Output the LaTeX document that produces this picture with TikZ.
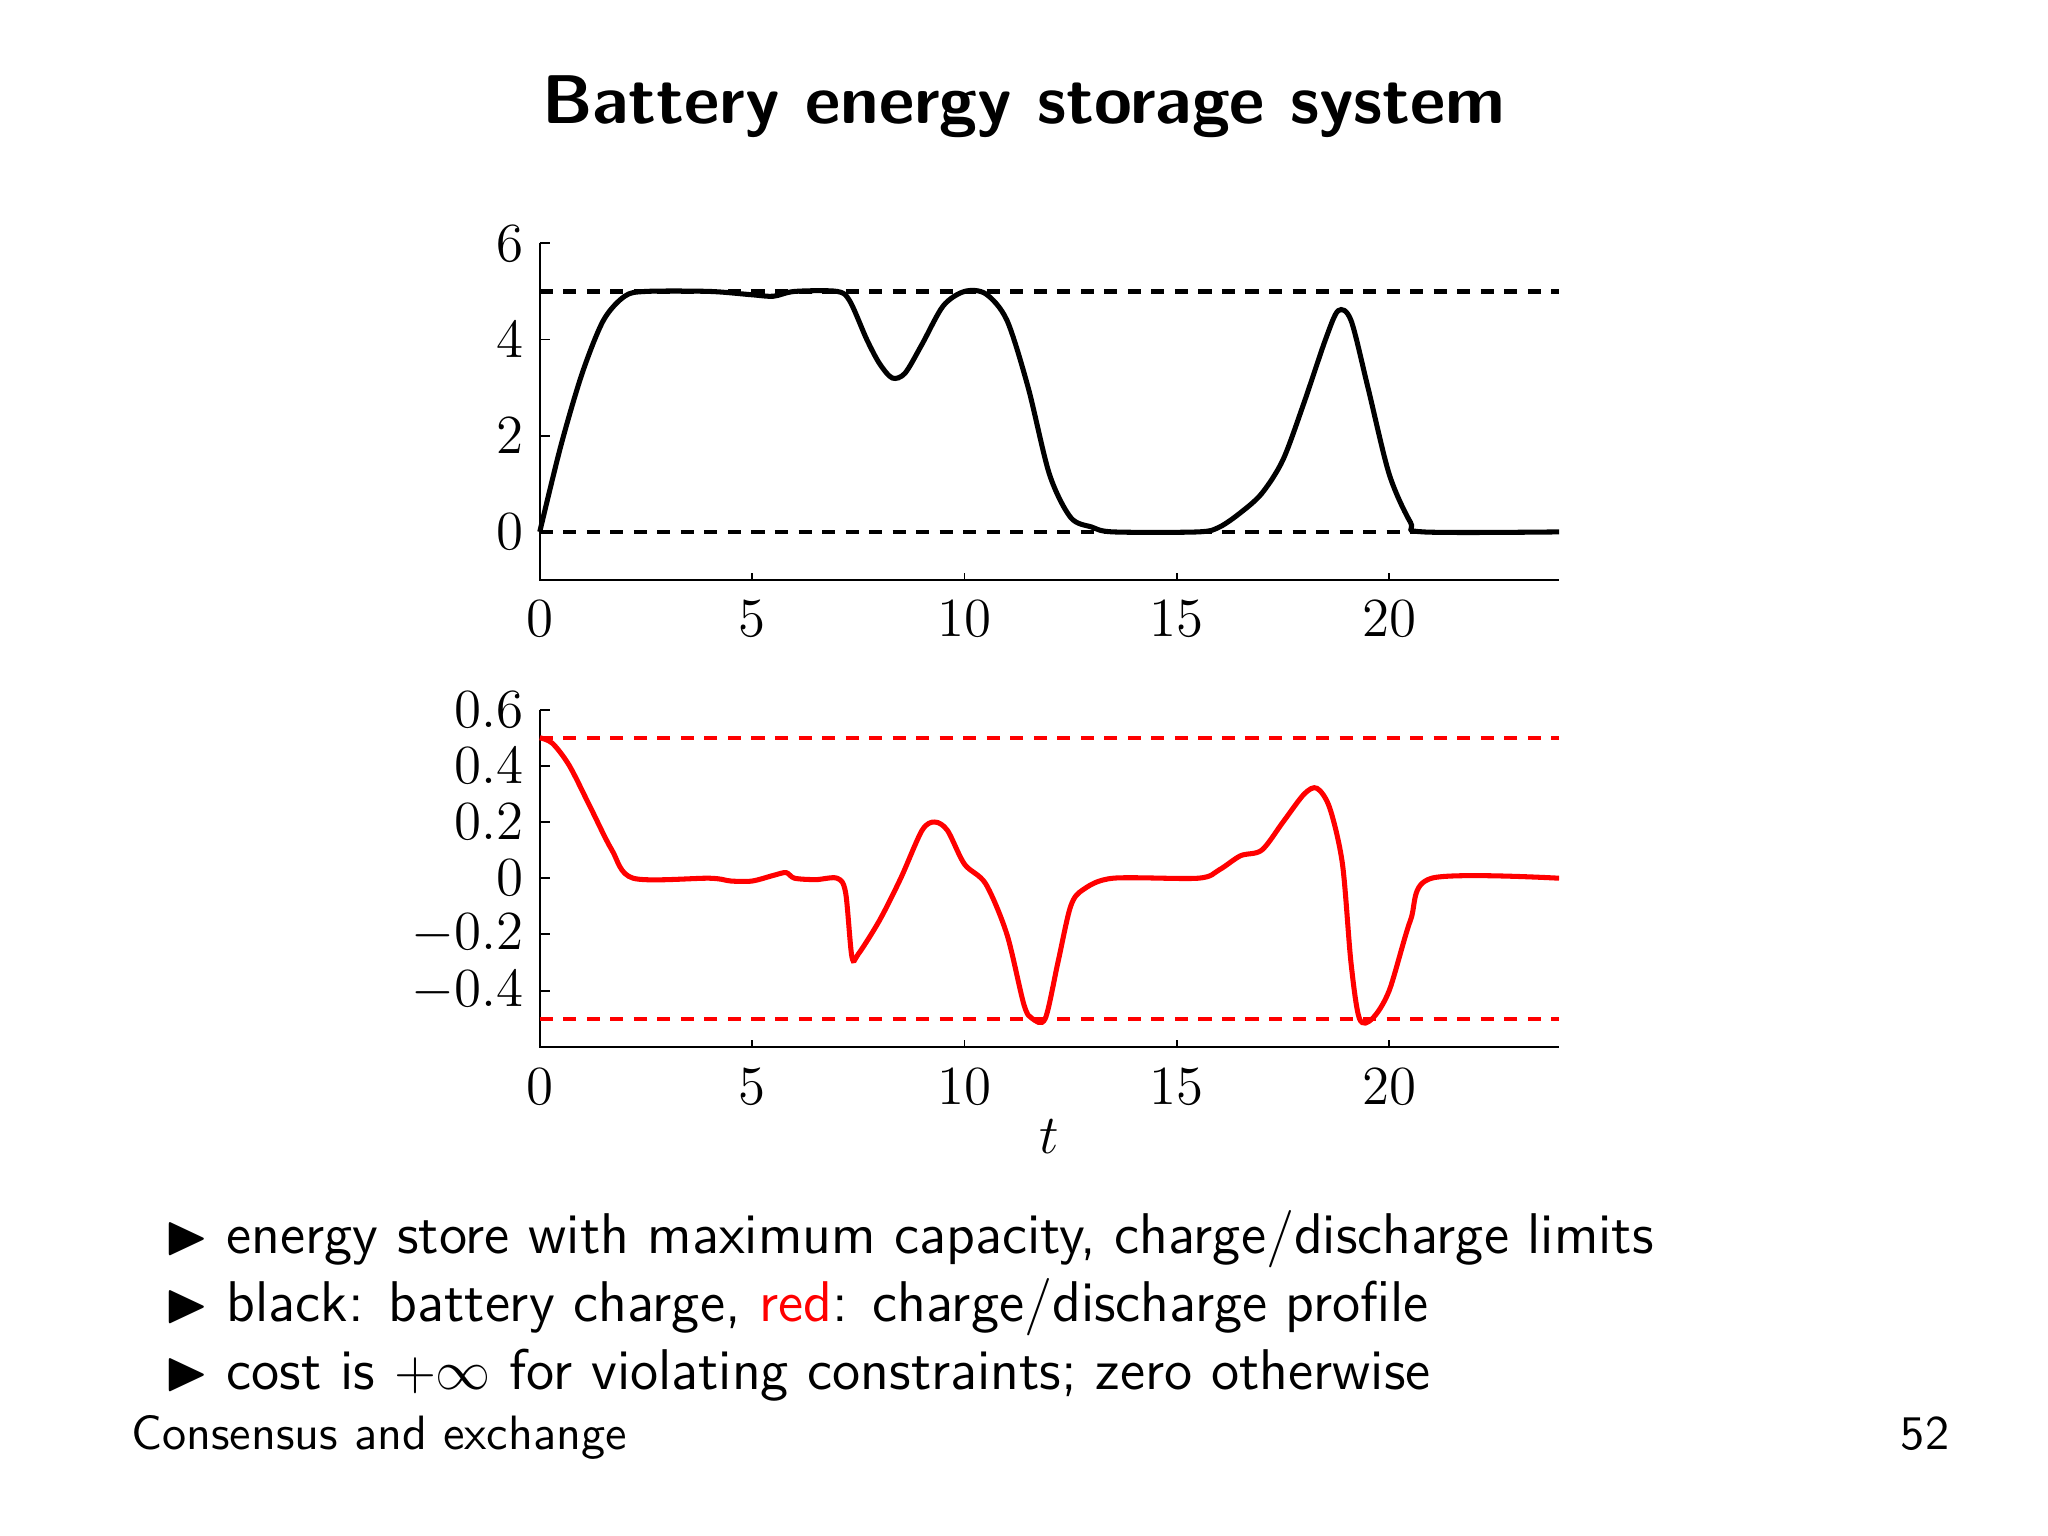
\documentclass[tikz,border=0pt]{standalone}
\usepackage{amssymb}
\begin{document}
\begin{tikzpicture}[x=0.01cm,y=-0.01cm,
  tick/.style={font=\fontsize{13}{15}\selectfont},
  lim/.style={dashed,dash pattern=on 0.1cm off 0.08cm,line width=0.9pt},
  curve/.style={line width=1.1pt,smooth,tension=0.5},
  bul/.style={anchor=base west,font=\sffamily\fontsize{12.5}{15}\selectfont,inner sep=0}]
\useasboundingbox (0,0) rectangle (1568,1176);
\node[font=\sffamily\bfseries\fontsize{15}{18}\selectfont] (title) at (784,82) {Battery energy storage system};
% top plot
\begin{scope}[shift={(4.13cm,-4.07cm)},x=0.325cm,y=0.368cm]
 \draw[line width=0.5pt] (0,6) -- (0,-1) -- (24,-1);
 \foreach \v in {0,2,4,6} {\draw (0,\v) -- (0.25,\v); \node[tick,anchor=east] at (0,\v) {$\v$};}
 \foreach \v in {0,5,10,15,20} {\draw (\v,-1) -- (\v,-0.85); \node[tick,anchor=north] at (\v,-1.1) {$\v$};}
 \draw[lim] (0,5) -- (24,5);
 \draw[lim] (0,0) -- (24,0);
 \draw[curve] plot coordinates {(0,0) (0.5,1.8) (1,3.3) (1.5,4.4) (2,4.9) (2.5,5) (4,5) (5,4.93) (5.5,4.9) (6,5) (7,5) (7.3,4.8) (7.7,4) (8,3.5) (8.3,3.2) (8.6,3.3) (9,3.9) (9.5,4.7) (10,5) (10.5,4.95) (11,4.4) (11.5,3) (12,1.2) (12.5,0.3) (13,0.1) (13.5,0) (15.5,0) (16,0.1) (16.5,0.4) (17,0.8) (17.5,1.5) (18,2.7) (18.5,4) (18.8,4.6) (19.1,4.4) (19.5,3) (20,1.2) (20.5,0.2) (20.8,0) (24,0)};
\end{scope}
% bottom plot
\begin{scope}[shift={(4.13cm,-6.72cm)},x=0.325cm,y=2.15cm]
 \draw[line width=0.5pt] (0,0.6) -- (0,-0.6) -- (24,-0.6);
 \foreach \v/\l in {0.6/0.6,0.4/0.4,0.2/0.2,0/0,-0.2/-0.2,-0.4/-0.4} {\draw (0,\v) -- (0.25,\v); \node[tick,anchor=east] at (0,\v) {$\l$};}
 \foreach \v in {0,5,10,15,20} {\draw (\v,-0.6) -- (\v,-0.575); \node[tick,anchor=north] at (\v,-0.62) {$\v$};}
 \node[tick] (tl) at (12,-0.92) {$t$};
 \draw[lim,red] (0,0.5) -- (24,0.5);
 \draw[lim,red] (0,-0.5) -- (24,-0.5);
 \draw[curve,red] plot coordinates {(0,0.5) (0.3,0.48) (0.7,0.4) (1.2,0.25) (1.7,0.1) (2.2,0) (4,0) (4.5,-0.01) (5,-0.01) (5.5,0.01) (5.8,0.02) (6,0) (6.5,-0.005) (7,0) (7.2,-0.05) (7.35,-0.28) (7.5,-0.27) (8,-0.15) (8.5,0) (9,0.17) (9.3,0.2) (9.6,0.17) (10,0.05) (10.5,-0.02) (11,-0.2) (11.4,-0.45) (11.6,-0.5) (11.9,-0.5) (12.2,-0.3) (12.5,-0.1) (12.8,-0.04) (13.5,0) (15.5,0) (16,0.03) (16.5,0.08) (17,0.1) (17.5,0.2) (18,0.3) (18.3,0.32) (18.6,0.25) (18.9,0.05) (19.1,-0.3) (19.3,-0.5) (19.6,-0.5) (20,-0.4) (20.5,-0.15) (21,0) (24,0)};
\end{scope}
% bullets
\foreach \yy/\txt [count=\i] in {960/{energy store with maximum capacity, charge/discharge limits},1012/{black: battery charge, \textcolor{red}{red}: charge/discharge profile},1064/{cost is $+\infty$ for violating constraints; zero otherwise}} {
 \node[bul] (m\i) at (125,\yy) {$\blacktriangleright$};
 \node[bul] (b\i) at (173,\yy) {\txt};
}
\node[anchor=base west,font=\sffamily\fontsize{10.5}{12}\selectfont,inner sep=0] (foot) at (100,1110) {Consensus and exchange};
\node[anchor=base east,font=\sffamily\fontsize{10.5}{12}\selectfont,inner sep=0] (pg) at (1493,1110) {52};
\end{tikzpicture}
\end{document}
